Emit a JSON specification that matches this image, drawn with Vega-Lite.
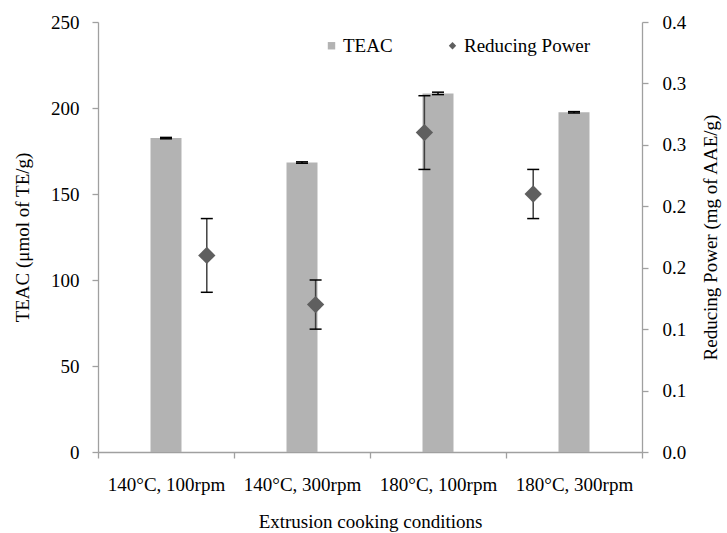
{
  "$schema": "https://vega.github.io/schema/vega-lite/v6.json",
  "width": 544,
  "height": 430,
  "autosize": {"type": "none"},
  "padding": {"left": 98, "top": 22, "right": 85, "bottom": 81},
  "background": "#ffffff",
  "config": {
    "view": {"stroke": null},
    "font": "Liberation Serif",
    "axis": {
      "labelFont": "Liberation Serif",
      "titleFont": "Liberation Serif",
      "labelFontSize": 19,
      "titleFontSize": 19,
      "titleFontWeight": "normal",
      "labelColor": "#000000",
      "titleColor": "#000000",
      "domainColor": "#a0a0a0",
      "tickColor": "#a0a0a0",
      "domainWidth": 1.3,
      "tickWidth": 1.3,
      "tickSize": 6,
      "grid": false
    },
    "legend": {"labelFont": "Liberation Serif", "labelFontSize": 19, "labelColor": "#000000"}
  },
  "data": {
    "values": [
      {"condition": "140°C, 100rpm", "teac": 182.5, "teac_lo": 182.1, "teac_hi": 182.9, "rp": 0.16, "rp_lo": 0.13, "rp_hi": 0.19},
      {"condition": "140°C, 300rpm", "teac": 168.3, "teac_lo": 167.9, "teac_hi": 168.7, "rp": 0.12, "rp_lo": 0.10, "rp_hi": 0.14},
      {"condition": "180°C, 100rpm", "teac": 208.5, "teac_lo": 207.8, "teac_hi": 209.2, "rp": 0.26, "rp_lo": 0.23, "rp_hi": 0.29},
      {"condition": "180°C, 300rpm", "teac": 197.5, "teac_lo": 197.1, "teac_hi": 197.9, "rp": 0.21, "rp_lo": 0.19, "rp_hi": 0.23}
    ]
  },
  "layer": [
    {
      "encoding": {
        "x": {
          "field": "condition",
          "type": "nominal",
          "sort": null,
          "scale": {"paddingInner": 0, "paddingOuter": 0},
          "axis": {
            "labelAngle": 0,
            "tickBand": "extent",
            "title": "Extrusion cooking conditions",
            "labelPadding": 17,
            "titlePadding": 18
          }
        }
      },
      "layer": [
        {
          "mark": {"type": "bar", "width": 31},
          "encoding": {
            "y": {
              "field": "teac",
              "type": "quantitative",
              "title": "TEAC (μmol of TE/g)",
              "scale": {"domain": [0, 250], "nice": false},
              "axis": {"values": [0, 50, 100, 150, 200, 250], "labelPadding": 13, "titlePadding": 18}
            },
            "color": {
              "datum": "TEAC",
              "type": "nominal",
              "scale": {"domain": ["TEAC", "Reducing Power"], "range": ["#b3b3b3", "#5f5f5f"]},
              "legend": {
                "title": null,
                "orient": "none",
                "legendX": 224,
                "legendY": 14,
                "direction": "horizontal",
                "symbolSize": 55,
                "symbolStrokeWidth": 0,
                "symbolOpacity": 1,
                "labelFont": "Liberation Serif",
                "labelFontSize": 19,
                "labelColor": "#000000",
                "labelOffset": 2,
                "columnPadding": 50,
                "padding": 0,
                "encode": {
                  "symbols": {"update": {"shape": {"signal": "datum.value === 'TEAC' ? 'square' : 'diamond'"}}},
                  "labels": {"update": {"font": {"value": "Liberation Serif"}, "fontSize": {"value": 19}, "fill": {"value": "#000000"}}}
                }
              }
            }
          }
        },
        {
          "mark": {"type": "rule", "color": "#000000", "strokeWidth": 1.5},
          "encoding": {
            "y": {"field": "teac_lo", "type": "quantitative", "title": "TEAC (μmol of TE/g)"},
            "y2": {"field": "teac_hi"}
          }
        },
        {
          "mark": {"type": "tick", "color": "#000000", "orient": "horizontal", "size": 12, "thickness": 1.5, "opacity": 1},
          "encoding": {"y": {"field": "teac_lo", "type": "quantitative", "title": "TEAC (μmol of TE/g)"}}
        },
        {
          "mark": {"type": "tick", "color": "#000000", "orient": "horizontal", "size": 12, "thickness": 1.5, "opacity": 1},
          "encoding": {"y": {"field": "teac_hi", "type": "quantitative", "title": "TEAC (μmol of TE/g)"}}
        }
      ]
    },
    {
      "transform": [{"window": [{"op": "row_number", "as": "idx"}]}],
      "encoding": {
        "x": {"field": "idx", "type": "quantitative", "scale": {"domain": [0, 5], "nice": false, "zero": false}, "axis": null}
      },
      "layer": [
        {
          "mark": {"type": "rule", "color": "#404040", "strokeWidth": 1.5},
          "encoding": {
            "y": {
              "field": "rp_lo",
              "type": "quantitative",
              "title": "Reducing Power (mg of AAE/g)",
              "scale": {"domain": [0, 0.35], "nice": false},
              "axis": {
                "orient": "right",
                "values": [0, 0.05, 0.1, 0.15, 0.2, 0.25, 0.3, 0.35],
                "labelExpr": "format(round(datum.value * 10 + 0.000001) / 10, '.1f')",
                "labelPadding": 14,
                "titlePadding": 16,
                "titleAngle": 270,
                "titleBaseline": "top"
              }
            },
            "y2": {"field": "rp_hi"}
          }
        },
        {
          "mark": {"type": "tick", "color": "#000000", "orient": "horizontal", "size": 12, "thickness": 1.5, "opacity": 1},
          "encoding": {"y": {"field": "rp_lo", "type": "quantitative", "title": "Reducing Power (mg of AAE/g)"}}
        },
        {
          "mark": {"type": "tick", "color": "#000000", "orient": "horizontal", "size": 12, "thickness": 1.5, "opacity": 1},
          "encoding": {"y": {"field": "rp_hi", "type": "quantitative", "title": "Reducing Power (mg of AAE/g)"}}
        },
        {
          "mark": {"type": "point", "shape": "diamond", "filled": true, "size": 300, "opacity": 1, "strokeWidth": 0},
          "encoding": {
            "y": {"field": "rp", "type": "quantitative", "title": "Reducing Power (mg of AAE/g)"},
            "color": {"datum": "Reducing Power", "type": "nominal"}
          }
        }
      ]
    }
  ],
  "resolve": {"scale": {"x": "independent", "y": "independent"}}
}
